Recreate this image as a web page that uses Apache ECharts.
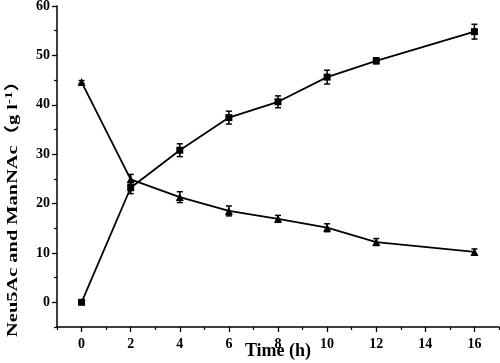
<!DOCTYPE html>
<html><head><meta charset="utf-8">
<script src="https://cdn.jsdelivr.net/npm/echarts@6/dist/echarts.min.js"></script>
<style>html,body{margin:0;padding:0;background:#fff}#c{width:500px;height:363px}</style>
</head><body><div id="c"></div>
<script>
var times = [0, 2, 4, 6, 8, 10, 12, 16];
var manNAc = [0, 23.2, 30.8, 37.4, 40.6, 45.6, 48.9, 54.8];
var manNAcErr = [0.3, 1.2, 1.3, 1.3, 1.2, 1.4, 0.6, 1.5];
var neu5Ac = [44.6, 24.9, 21.3, 18.5, 16.9, 15.1, 12.2, 10.2];
var neu5AcErr = [0.3, 1.0, 1.1, 1.0, 0.7, 0.8, 0.7, 0.6];
var xTicks = [0, 2, 4, 6, 8, 10, 12, 14, 16];
var xMinorTicks = [-1, 1, 3, 5, 7, 9, 11, 13, 15, 17];
var yTicks = [0, 10, 20, 30, 40, 50, 60];
var yMinorTicks = [-5, 5, 15, 25, 35, 45, 55];

var FONT = '"Liberation Serif", "Times New Roman", "Noto Sans CJK SC", serif';
var chart = echarts.init(document.getElementById('c'));

function pts(xs, ys) { return xs.map(function (x, i) { return [x, ys[i]]; }); }
function errData(xs, ys, es) { return xs.map(function (x, i) { return [x, ys[i] - es[i], ys[i] + es[i]]; }); }
function errRender(params, api) {
  var lo = api.coord([api.value(0), api.value(1)]);
  var hi = api.coord([api.value(0), api.value(2)]);
  var w = 3;
  var st = { stroke: '#000', lineWidth: 1.5 };
  return { type: 'group', children: [
    { type: 'line', shape: { x1: lo[0], y1: lo[1], x2: hi[0], y2: hi[1] }, style: st },
    { type: 'line', shape: { x1: lo[0] - w, y1: lo[1], x2: lo[0] + w, y2: lo[1] }, style: st },
    { type: 'line', shape: { x1: hi[0] - w, y1: hi[1], x2: hi[0] + w, y2: hi[1] }, style: st }
  ]};
}
var labelStyle = { fontFamily: FONT, fontWeight: 'bold', fontSize: 14, color: '#000' };

chart.setOption({
  animation: false,
  backgroundColor: '#fff',
  grid: { left: 57, right: 1, top: 6, bottom: 36, containLabel: false, outerBoundsMode: 'none' },
  xAxis: [{
    type: 'value', min: -1, max: 17, interval: 2,
    name: 'Time (h)', nameLocation: 'middle', nameGap: 15, nameMoveOverlap: false,
    nameTextStyle: { fontFamily: FONT, fontWeight: 'bold', fontSize: 18, color: '#000' },
    axisLine: { onZero: false, lineStyle: { color: '#000', width: 1.5 } },
    axisTick: { show: true, inside: false, length: 5, lineStyle: { color: '#000', width: 1.3 },
      customValues: xTicks },
    axisLabel: Object.assign({ margin: 10, customValues: xTicks }, labelStyle),
    splitLine: { show: false }
  }, {
    type: 'value', min: -1, max: 17, position: 'bottom',
    axisLine: { show: false, onZero: false },
    axisTick: { show: true, inside: false, length: 3, lineStyle: { color: '#000', width: 1.2 },
      customValues: xMinorTicks },
    axisLabel: { show: false },
    splitLine: { show: false }
  }],
  yAxis: [{
    type: 'value', min: -5, max: 60, interval: 5,
    axisLine: { onZero: false, lineStyle: { color: '#000', width: 1.5 } },
    axisTick: { show: true, inside: false, length: 5, lineStyle: { color: '#000', width: 1.3 },
      customValues: yTicks },
    axisLabel: Object.assign({ margin: 7, customValues: yTicks }, labelStyle),
    splitLine: { show: false }
  }, {
    type: 'value', min: -5, max: 60, position: 'left',
    axisLine: { show: false, onZero: false },
    axisTick: { show: true, inside: false, length: 3, lineStyle: { color: '#000', width: 1.2 },
      customValues: yMinorTicks },
    axisLabel: { show: false },
    splitLine: { show: false }
  }],
  graphic: [{
    type: 'text', x: 13, y: 204, rotation: Math.PI / 2, scaleX: 1.36,
    style: {
      text: '{n|Neu5Ac and ManNAc（g l}{s|-1}{n|）}',
      align: 'center', verticalAlign: 'middle',
      rich: {
        n: { fontFamily: FONT, fontWeight: 'bold', fontSize: 15, fill: '#000' },
        s: { fontFamily: FONT, fontWeight: 'bold', fontSize: 11, fill: '#000', verticalAlign: 'top', padding: [0, 0, 7, 0] }
      }
    }
  }],
  series: [
    { name: 'ManNAc', type: 'line', data: pts(times, manNAc), symbol: 'rect', symbolSize: 7,
      itemStyle: { color: '#000' }, lineStyle: { color: '#000', width: 1.8 }, z: 3 },
    { name: 'Neu5Ac', type: 'line', data: pts(times, neu5Ac), symbol: 'triangle', symbolSize: 8,
      itemStyle: { color: '#000' }, lineStyle: { color: '#000', width: 1.8 }, z: 3 },
    { type: 'custom', data: errData(times, manNAc, manNAcErr), renderItem: errRender, z: 4 },
    { type: 'custom', data: errData(times, neu5Ac, neu5AcErr), renderItem: errRender, z: 4 }
  ]
});
</script></body></html>
